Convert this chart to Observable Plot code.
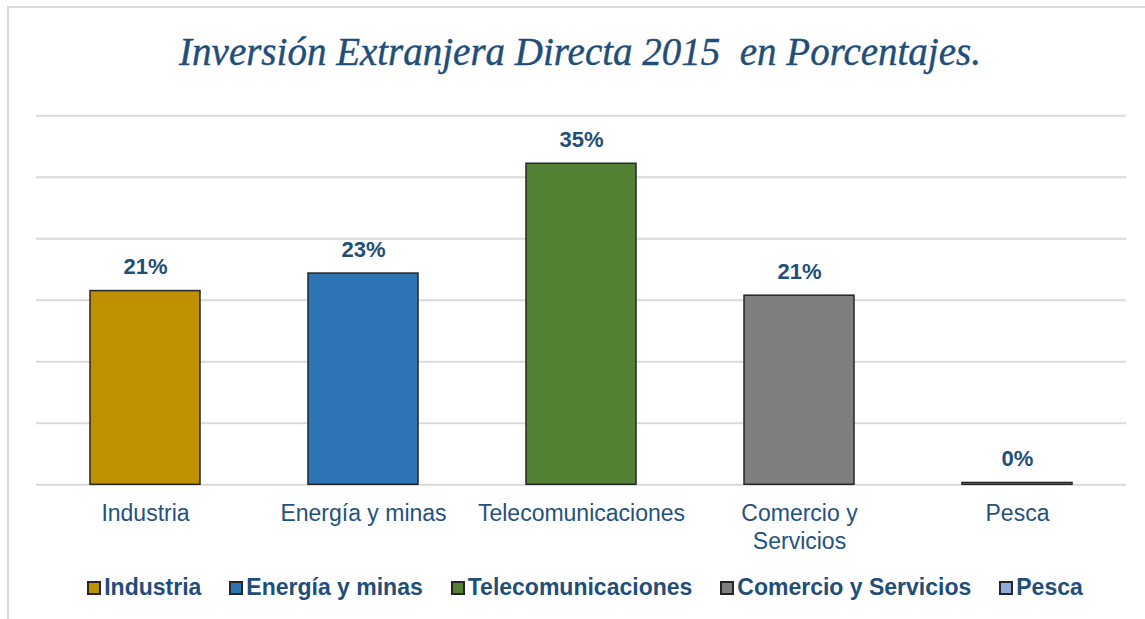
<!DOCTYPE html>
<html>
<head>
<meta charset="utf-8">
<script src="https://cdn.jsdelivr.net/npm/d3@7"></script>
<script src="https://cdn.jsdelivr.net/npm/@observablehq/plot@0.6"></script>
<style>
  html, body { margin: 0; padding: 0; background: #fff; }
  body { width: 1145px; height: 619px; overflow: hidden; position: relative; font-family: "Liberation Sans", Arial, sans-serif; }
  #frame { position: absolute; left: 7px; top: 6px; width: 1160px; height: 640px; border: 2px solid #d9d9d9; box-sizing: border-box; }
  #title { position: absolute; left: 0; top: 29px; width: 1160px; text-align: center; font-family: "Liberation Serif", serif; font-style: italic; font-size: 39px; color: #1f4e79; white-space: pre; -webkit-text-stroke: 0.4px #1f4e79; }
  #chart { position: absolute; left: 0; top: 100px; }
  #legend { position: absolute; top: 574px; left: 0; width: 1170px; display: flex; justify-content: center; gap: 28px; font-weight: bold; font-size: 23px; color: #1f4e79; }
  .item { display: flex; align-items: center; }
  .sw { width: 10px; height: 10px; border: 2px solid #262626; margin-right: 3px; }
</style>
</head>
<body>
<div id="frame"></div>
<div id="title">Inversión Extranjera Directa 2015  en Porcentajes.</div>
<div id="chart"></div>
<div id="legend"></div>
<script>
const categories = ["Industria", "Energía y minas", "Telecomunicaciones", "Comercio y Servicios", "Pesca"];
const axisLabels = ["Industria", "Energía y minas", "Telecomunicaciones", "Comercio y\nServicios", "Pesca"];
const values = [21.0, 22.9, 34.8, 20.5, 0.2];
const valueLabels = ["21%", "23%", "35%", "21%", "0%"];
const colors = ["#bf9000", "#2e75b6", "#548235", "#7f7f7f", "#8faadc"];
const gridTicks = [0, 6.667, 13.333, 20, 26.667, 33.333, 40];

const data = categories.map((c, i) => ({cat: c, value: values[i], label: valueLabels[i]}));

const chart = Plot.plot({
  width: 1145,
  height: 460,
  marginLeft: 36,
  marginRight: 19,
  marginTop: 15.3,
  marginBottom: 75.7,
  x: {domain: categories, paddingInner: 0.495, paddingOuter: 0.2475, label: null},
  y: {domain: [0, 40], axis: null},
  color: {domain: categories, range: colors},
  style: {fontFamily: "Liberation Sans, Arial, sans-serif", background: "transparent"},
  marks: [
    Plot.ruleY(gridTicks, {stroke: "#d9d9d9", strokeWidth: 2}),
    Plot.barY(data, {x: "cat", y: "value", fill: "cat", stroke: "#262626", strokeWidth: 1.5}),
    Plot.text(data, {x: "cat", y: "value", text: "label", dy: -17, lineAnchor: "bottom", fontSize: 22, fontWeight: "bold", fill: "#1f4e79"}),
    Plot.axisX({label: null, tickSize: 0, tickPadding: 16, fontSize: 23, fill: "#24527f", lineHeight: 1.217,
      tickFormat: d => axisLabels[categories.indexOf(d)]})
  ]
});
document.getElementById("chart").appendChild(chart);

const legend = document.getElementById("legend");
categories.forEach((c, i) => {
  const item = document.createElement("div");
  item.className = "item";
  const sw = document.createElement("div");
  sw.className = "sw";
  sw.style.background = colors[i];
  const t = document.createElement("span");
  t.textContent = c;
  item.appendChild(sw);
  item.appendChild(t);
  legend.appendChild(item);
});
</script>
</body>
</html>
